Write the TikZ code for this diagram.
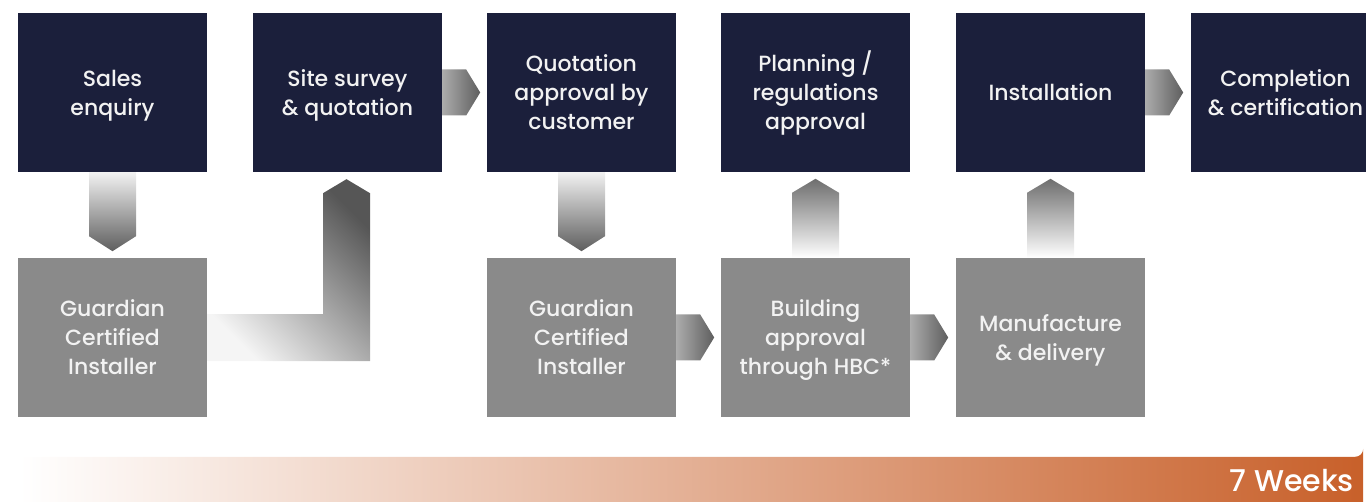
\documentclass[tikz,border=0pt]{standalone}
\usepackage{fontspec}
\setmainfont{Poppins}[UprightFont={* Medium}]
\usetikzlibrary{calc}
\definecolor{navy}{HTML}{1B1F3B}
\definecolor{boxgray}{HTML}{8A8A8A}
\definecolor{txt}{HTML}{F2F2F2}
\definecolor{orng}{HTML}{C8602A}
\definecolor{adark}{HTML}{5E5E5E}
\definecolor{alight}{HTML}{F2F2F2}
\newcommand{\stt}{\rule[-6.2pt]{0pt}{29pt}}
\tikzset{
  stepbox/.style={minimum width=189pt, minimum height=159pt, inner sep=0pt, align=center,
    text=txt, font=\fontsize{22}{29}\selectfont},
  darkbox/.style={stepbox, fill=navy},
  graybox/.style={stepbox, fill=boxgray},
}
\begin{document}
\begin{tikzpicture}[x=1pt,y=-1pt]
\useasboundingbox (0,0) rectangle (1366,502);
\clip (0,0) rectangle (1366,502);
% top row
\node[darkbox] (s1) at (112.5,92.5) {\stt Sales\\\stt enquiry};
\node[darkbox] (s2) at (347.5,92.5) {\stt Site survey\\\stt \& quotation};
\node[darkbox] (s3) at (581.5,92.5) {\stt Quotation\\\stt approval by\\\stt customer};
\node[darkbox] (s4) at (815.5,92.5) {\stt Planning /\\\stt regulations\\\stt approval};
\node[darkbox] (s5) at (1050.5,92.5) {\stt Installation};
\node[darkbox] (s6) at (1285.5,92.5) {\stt Completion\\\stt \& certification};
% bottom row
\node[graybox] (g1) at (112.5,337.5) {\stt Guardian\\\stt Certified\\\stt Installer};
\node[graybox] (g3) at (581.5,337.5) {\stt Guardian\\\stt Certified\\\stt Installer};
\node[graybox] (g4) at (815.5,337.5) {\stt Building\\\stt approval\\\stt through HBC*};
\node[graybox] (g5) at (1050.5,337.5) {\stt Manufacture\\\stt \& delivery};
% down arrows
\foreach \a/\b in {s1/g1, s3/g3}{
  \shade[top color=alight, bottom color=adark]
    ($(\a.south)+(-23.5,0)$) -- ($(\a.south)+(23.5,0)$) -- ($(\a.south)+(23.5,64)$)
    -- ($(\a.south)+(0,79)$) -- ($(\a.south)+(-23.5,64)$) -- cycle;
}
% up arrows
\foreach \a/\b in {g4/s4, g5/s5}{
  \shade[top color=adark!90!white, bottom color=white]
    ($(\a.north)+(-23.5,0)$) -- ($(\a.north)+(23.5,0)$) -- ($(\a.north)+(23.5,-65)$)
    -- ($(\a.north)+(0,-79)$) -- ($(\a.north)+(-23.5,-65)$) -- cycle;
}
% right arrows
\foreach \a/\b in {s2/s3, s5/s6, g3/g4, g4/g5}{
  \shade[left color=gray!65!white, right color=adark]
    ($(\a.east)+(0,-23)$) -- ($(\a.east)+(24,-23)$) -- ($(\a.east)+(38,0)$)
    -- ($(\a.east)+(24,23)$) -- ($(\a.east)+(0,23)$) -- cycle;
}
% L-shaped arrow from g1 to s2
\shade[left color=gray!8!white, right color=adark!92!black, shading angle=135]
  ($(g1.east)+(0,-23.5)$) -- ($(s2.south)+(-24.5,142)$) -- ($(s2.south)+(-24.5,21)$)
  -- ($(s2.south)+(-1,7)$) -- ($(s2.south)+(22.5,21)$) -- ($(s2.south)+(22.5,189)$)
  -- ($(g1.east)+(0,23.5)$) -- cycle;
% timeline bar
\node[minimum width=1346pt, minimum height=46pt, inner sep=0pt] (bar) at (693,480) {};
\shade[left color=white, right color=orng]
  (bar.north west) -- ($(bar.north east)+(-11,0)$) arc[start angle=90, end angle=0, x radius=8pt, y radius=-8pt]
  -- ($(bar.south east)+(-3,0)$) -- (bar.south west) -- cycle;
\node[anchor=base east, text=white, font=\fontsize{30}{36}\selectfont, inner sep=0pt] (wk) at (1354,491) {7 Weeks};
\end{tikzpicture}
\end{document}
